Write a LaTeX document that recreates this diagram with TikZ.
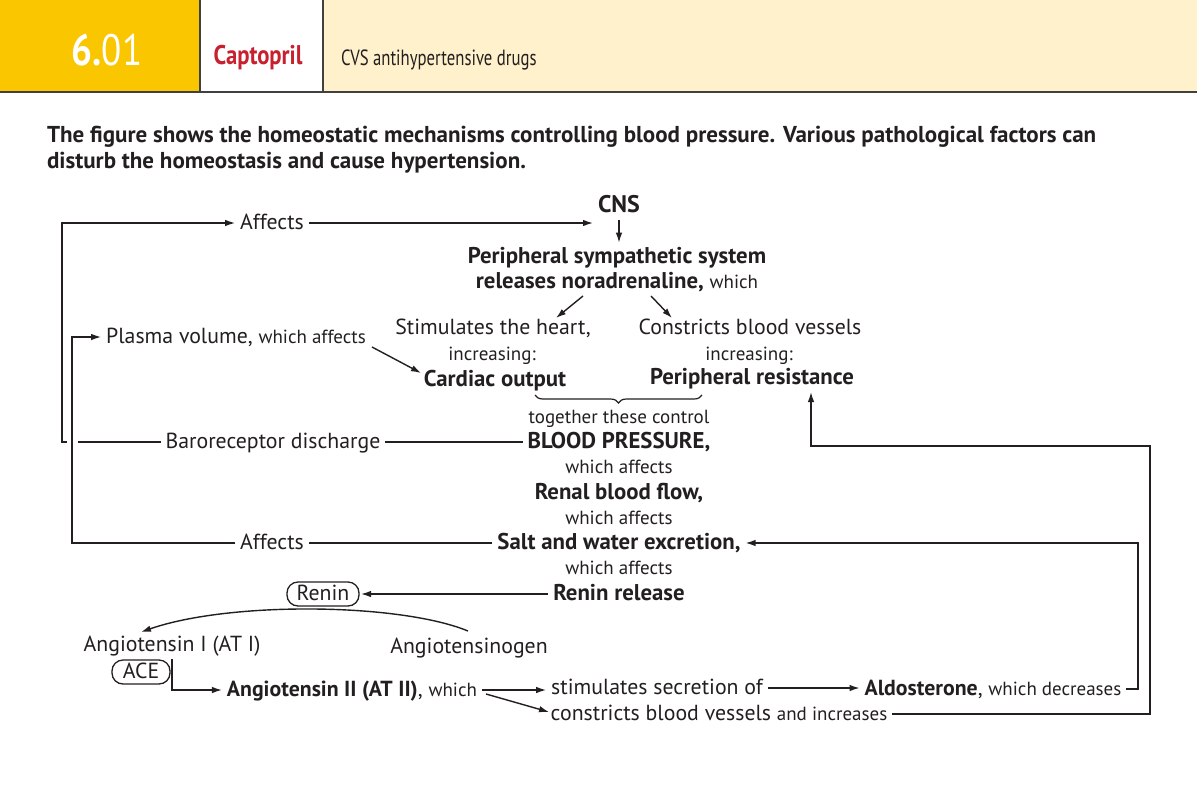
\documentclass[tikz,border=0pt]{standalone}
\usepackage{fontspec}
\setmainfont{PT Sans}
\usetikzlibrary{arrows.meta,decorations.pathreplacing,calc}
\definecolor{hdyellow}{HTML}{F9C600}
\definecolor{hdcream}{HTML}{FEF1CB}
\definecolor{drugred}{HTML}{C8202F}
\definecolor{ink}{HTML}{231F20}
\newcommand{\smtxt}[1]{{\fontsize{19}{22}\selectfont\mdseries #1}}
\newcommand{\narrow}[1]{\scalebox{0.84}[1]{#1}}

\begin{document}
\begin{tikzpicture}[
  x=1pt, y=-1pt,
  plain/.style={inner sep=0pt, outer sep=5pt, text height=15pt, text depth=3pt,
                font=\fontsize{21.8}{24}\selectfont, text=ink},
  term/.style={plain, font=\fontsize{22.8}{24}\selectfont\bfseries},
  aside/.style={plain, text height=13pt, text depth=3pt, font=\fontsize{19}{22}\selectfont},
  enzyme/.style={plain, draw=ink, line width=1.3pt, rounded corners=11pt,
                 minimum width=72pt, minimum height=24pt, outer sep=2pt},
  arrow/.style={line width=1.4pt, draw=ink, -{Latex[length=10pt,width=6.5pt]}},
  link/.style={line width=1.4pt, draw=ink},
  hdline/.style={line width=2.5pt, draw=black!75}
]
  \useasboundingbox (0,0) rectangle (1197,804);

  % ===== Header band =====
  \fill[hdyellow] (0,0) rectangle (200,92);
  \fill[white] (200,0) rectangle (323,92);
  \fill[hdcream] (323,0) rectangle (1197,92);
  \draw[hdline] (0,92) -- (1197,92);
  \foreach \x in {200,323}
    \draw[hdline, line width=2pt] (\x,0) -- (\x,92);
  \node[text=white, font=\fontsize{44}{44}\selectfont, inner sep=0pt] (num) at (107,50)
    {\narrow{\textbf{6.}01}};
  \node[text=drugred, font=\fontsize{27}{27}\selectfont\bfseries, inner sep=0pt] (drug) at (258,58)
    {\narrow{Captopril}};
  \node[text=ink, font=\fontsize{22}{22}\selectfont, inner sep=0pt, anchor=west] (topic) at (341,60)
    {\scalebox{0.76}[1]{CVS antihypertensive drugs}};

  % ===== Intro =====
  \node[term, anchor=west, align=left, text height=, text depth=, outer sep=0pt,
        font=\fontsize{23}{26}\selectfont\bfseries] (intro) at (47,150)
    {The figure shows the homeostatic mechanisms controlling blood pressure. Various pathological factors can\\
     disturb the homeostasis and cause hypertension.};

  % ===== Central chain =====
  \node[term, font=\fontsize{24}{26}\selectfont\bfseries] (cns) at (619,206) {CNS};
  \node[term, align=center, text height=, text depth=, font=\fontsize{22.8}{25}\selectfont\bfseries] (symp) at (617,270)
    {Peripheral sympathetic system\\releases noradrenaline, \smtxt{which}};
  \node[plain] (heart) at (493,328) {Stimulates the heart,};
  \node[aside] (heartinc) at (492,355) {increasing:};
  \node[term] (cardiac) at (495,380) {Cardiac output};
  \node[plain] (vessels) at (750,328) {Constricts blood vessels};
  \node[aside] (vesselsinc) at (749,355) {increasing:};
  \node[term] (resist) at (752,378) {Peripheral resistance};
  \node[aside] (together) at (619,418) {together these control};
  \node[term] (bp) at (619,442) {BLOOD PRESSURE,};
  \node[aside] (wa1) at (619,468) {which affects};
  \node[term] (renal) at (619,493) {Renal blood flow,};
  \node[aside] (wa2) at (619,519) {which affects};
  \node[term] (salt) at (619,543) {Salt and water excretion,};
  \node[aside] (wa3) at (619,569) {which affects};
  \node[term] (reninrel) at (619,594) {Renin release};

  \draw[arrow] (cns.south) -- (cns.south |- symp.north);
  \draw[arrow] (583,296) -- (556,318);
  \draw[arrow] (651,296) -- (672,318);
  \draw[link, line width=1.2pt, decorate, decoration={brace, mirror, amplitude=8pt}]
    (535,395) -- (702,395);

  % ===== Left feedback loops =====
  \node[plain] (affects1) at (272,223) {Affects};
  \node[plain] (baro) at (273,442) {Baroreceptor discharge};
  \node[plain] (plasma) at (236,337) {Plasma volume, \smtxt{which affects}};
  \node[plain] (affects2) at (272,543) {Affects};
  \coordinate (outer) at (62,0);
  \coordinate (inner) at (72,0);

  \draw[arrow] (affects1.east) -- (affects1.east -| cns.west);
  \draw[link] (bp.west) -- (baro.east);
  \draw[link] (baro.west) -- (78,442);
  \draw[arrow] (67,442) -- (outer |- baro) -- (outer |- affects1) -- (affects1.west);
  \draw[link] (salt.west) -- (affects2.east);
  \draw[arrow] (affects2.west) -- (inner |- affects2) -- (inner |- plasma) -- (plasma.west);
  \draw[arrow] (372,347) -- (421,373);

  % ===== Renin--angiotensin system =====
  \node[enzyme] (renin) at (323,594) {Renin};
  \node[plain] (at1) at (172,645) {Angiotensin I (AT I)};
  \node[plain] (atgen) at (469,647) {Angiotensinogen};
  \node[enzyme, minimum width=58pt] (ace) at (141,672) {ACE};
  \node[plain] (at2) at (352,690) {\textbf{Angiotensin II (AT II)}, \smtxt{which}};
  \node[plain] (stim) at (657,688) {stimulates secretion of};
  \node[plain] (aldo) at (993,689) {\textbf{Aldosterone}, \smtxt{which decreases}};
  \node[plain] (constr) at (719,714) {constricts blood vessels \smtxt{and increases}};

  \draw[arrow] (reninrel.west) -- (renin.east);
  \draw[arrow] (468,631) .. controls (400,603) and (230,601) .. (141,632);
  \draw[arrow] (ace.east |- at1.south) -- (ace.east |- at2) -- (at2.west);
  \draw[arrow] (at2.east) -- (at2.east -| stim.west);
  \draw[arrow] (486,694) -- (549,712);
  \draw[arrow] (stim.east) -- (stim.east -| aldo.west);

  % ===== Right feedback loops =====
  \coordinate (aldoR) at (1138,0);
  \coordinate (constrR) at (1150,0);
  \coordinate (resIn) at (811,446);
  \draw[arrow] (aldo.east) -- (aldo.east -| aldoR) -- (aldoR |- salt.east) -- (salt.east);
  \draw[arrow] (constr.east) -- (constr.east -| constrR) -- (constrR |- resIn) -- (resIn)
    -- (resIn |- resist.south);
\end{tikzpicture}
\end{document}
